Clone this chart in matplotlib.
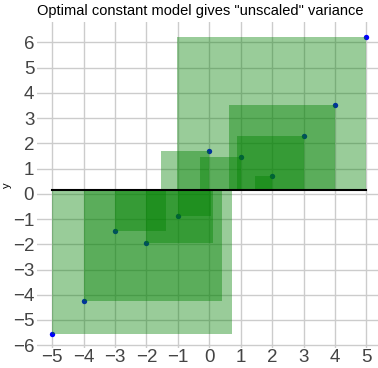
import matplotlib
matplotlib.use("Agg")
import matplotlib.pyplot as plt
from matplotlib.patches import Rectangle
import numpy as np

x_vals = [-5, -4, -3, -2, -1, 0, 1, 2, 3, 4, 5]
y_vals = [-5.57, -4.26, -1.46, -1.95, -0.88, 1.70, 1.45, 0.72, 2.29, 3.54, 6.20]
xticks = list(range(-5, 6))
yticks = list(range(-6, 7))
title = 'Optimal constant model gives "unscaled" variance'

plt.rcParams['font.family'] = ['Liberation Sans', 'DejaVu Sans']

fig = plt.figure(figsize=(3.78, 3.68), dpi=100)
ax = fig.add_axes([37/378, 20/368, 1 - 37/378, (348-22)/368])

xs = np.array(x_vals, dtype=float)
ys = np.array(y_vals, dtype=float)
mean = ys.mean()

ax.scatter(xs, ys, s=15, color='blue', zorder=2, linewidths=0)
for xi, yi in zip(xs, ys):
    r = yi - mean
    side = abs(r)
    if r > 0:
        rect = Rectangle((xi - side, mean), side, side, color='green', alpha=0.4, linewidth=0, zorder=3)
    else:
        rect = Rectangle((xi, yi), side, side, color='green', alpha=0.4, linewidth=0, zorder=3)
    ax.add_patch(rect)

ax.plot([xs.min(), xs.max()], [mean, mean], color='black', lw=1.5, zorder=4)

ax.set_xlim(-5.48, 5.37)
ax.set_ylim(-6.11, 6.81)
ax.set_xticks(xticks)
ax.set_yticks(yticks)
ax.grid(True, color='#cccccc', lw=1, zorder=0)
ax.set_axisbelow(True)
for s in ax.spines.values():
    s.set_visible(False)
ax.tick_params(axis='both', length=0, labelsize=13.5, labelcolor='#444444')
ax.tick_params(axis='x', pad=1)
ax.tick_params(axis='y', pad=2)
ax.set_ylabel('y', fontsize=8)
ax.yaxis.set_label_coords((12 - 37) / 341, 0.5)
ax.set_title(title, fontsize=10.5, pad=5, x=(200.5 - 37) / 341)

fig.savefig('out.png', dpi=100)
